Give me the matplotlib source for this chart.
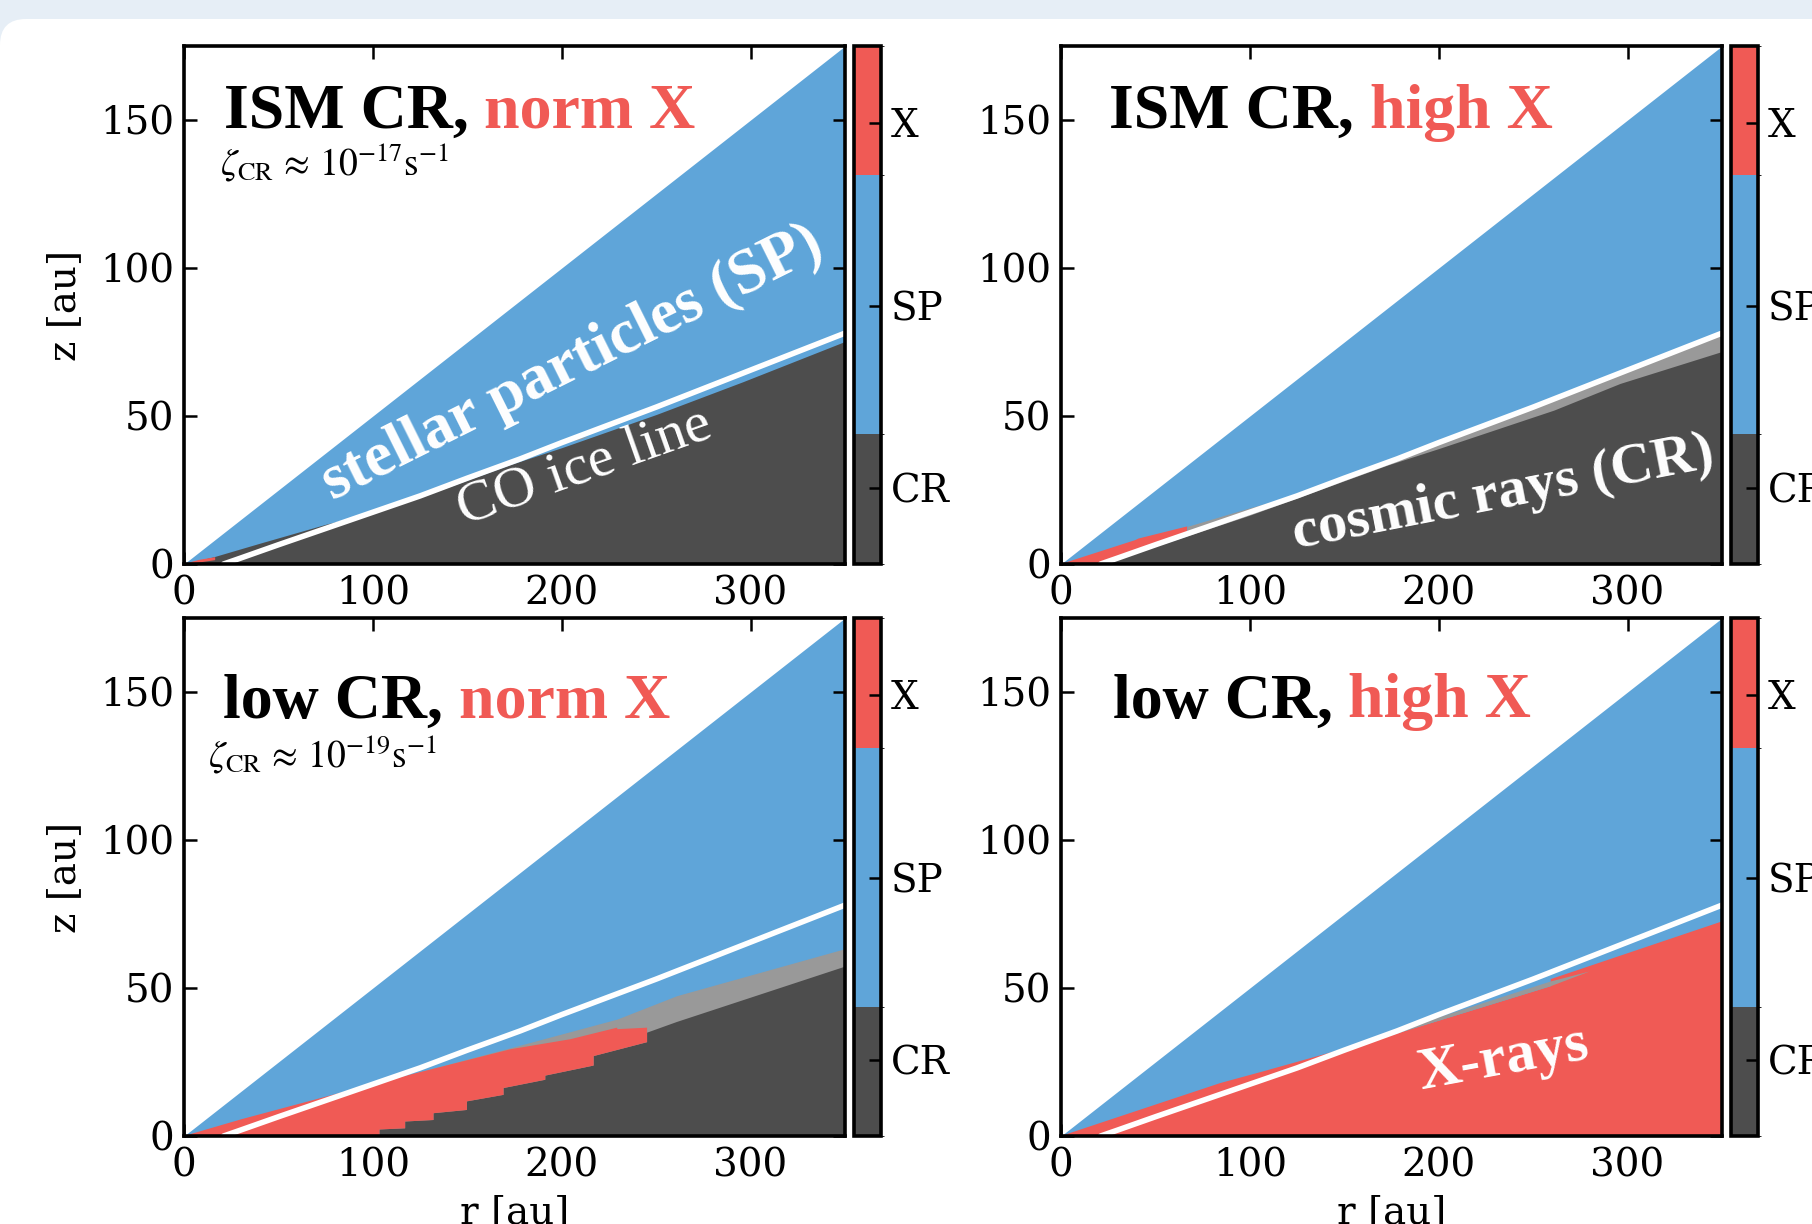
import matplotlib
matplotlib.use("Agg")
import matplotlib.pyplot as plt
import numpy as np
from matplotlib.colors import ListedColormap, BoundaryNorm
from matplotlib.patches import FancyBboxPatch, Rectangle
from matplotlib.transforms import IdentityTransform
import matplotlib.cm as cm

plt.rcParams['font.family'] = ['DejaVu Serif']
plt.rcParams['mathtext.fontset'] = 'stix'

BLUE = '#5fa5d9'
RED = '#f05a55'
DARK = '#4d4d4d'
LIGHT = '#999999'
TITLE_FONT = 'Liberation Serif'

# ---------------- data ----------------
surf_r = [0, 350]
surf_z = [0, 175]

ice_r = [21, 30, 50, 75, 100, 125, 150, 178, 200, 250, 300, 350]
ice_z = [0, 2, 6.5, 12, 17.5, 23, 29, 35.5, 41, 53, 65.5, 78]

# ISM CR, norm X
tl_dark_r = [0, 16, 40, 76, 100, 140, 172.8, 200, 250, 296, 350]
tl_dark_z = [0, 2.5, 7, 13.6, 17.3, 26.0, 33.6, 39.3, 50.5, 61.6, 75.2]
tl_red_r = [0, 8, 16.5, 16.5, 8, 0]
tl_red_z = [0, 1.4, 2.3, 1.3, 0.5, 0]
tl_light_r = [199, 207, 215, 207]
tl_light_z = [41.4, 42.4, 42.9, 41.6]

# ISM CR, high X
tr_light_r = [66.8, 100, 120, 172.8, 200, 261, 296, 350]
tr_light_z = [12.7, 19.0, 22.5, 35.0, 41.2, 55.5, 64.5, 77.5]
tr_dark_r = [21, 66.8, 100, 172.8, 200, 261, 296, 350]
tr_dark_z = [0, 9.5, 16.5, 33.4, 39, 52, 61, 71.8]
tr_red_top_r = [0, 39.4, 41, 66.8]
tr_red_top_z = [0, 8.1, 8.6, 12.7]

# low CR, norm X
bl_light_r = [0, 98.6, 172.8, 229.3, 260.9, 350]
bl_light_z = [0, 17.3, 29.8, 39.5, 47.4, 63.3]
bl_red_top_r = [0, 30.6, 98.6, 172.8, 204.6, 229.3, 229.5, 245.2]
bl_red_top_z = [0, 5.7, 17.3, 29.3, 32.7, 36.6, 36.1, 36.6]
bl_red_bot_r = [103.5, 103.5, 117.1, 117.1, 132.1, 132.1, 149.8, 149.8,
                169.2, 169.2, 191.3, 191.3, 216.9, 216.9, 245.2]
bl_red_bot_z = [0, 2.2, 2.6, 4.9, 5.4, 7.7, 8.8, 11.7,
                13.9, 16.2, 19.0, 20.4, 23.8, 27.0, 31.7]
bl_dark_r = [245.2, 260.9, 350]
bl_dark_z = [34.9, 38.5, 57.2]

# low CR, high X
br_red_r = [0, 84.4, 107.4, 172.8, 259.3, 259.3, 350]
br_red_z = [0, 17.9, 21.9, 33.6, 50.6, 53.0, 72.5]
br_light_r = [150, 172.8, 259.3, 280, 259.3, 172.8, 150]
br_light_z = [29.5, 34.5, 52.2, 55.6, 50.6, 33.6, 29.4]

cb_bounds = [0, 0.25, 0.75, 1.0]
cb_ticks = [0.147, 0.498, 0.852]
cb_labels = ['CR', 'SP', 'X']

titles = [('ISM CR,', ' norm X'), ('ISM CR,', ' high X'),
          ('low CR,', ' norm X'), ('low CR,', ' high X')]
zeta_texts = [r'$\zeta_{\rm CR}\,\approx\,10^{-17}{\rm s}^{-1}$', None,
              r'$\zeta_{\rm CR}\,\approx\,10^{-19}{\rm s}^{-1}$', None]

# ---------------- figure ----------------
W, H = 1812, 1224
fig = plt.figure(figsize=(W / 100, H / 100), dpi=100)
fig.patches.append(Rectangle((0, 0), 1, 1, transform=fig.transFigure,
                             facecolor='#e6eef6', edgecolor='none', zorder=-20))
fig.patches.append(FancyBboxPatch((0, -80), W + 100, H - 19 + 80,
                                  boxstyle='round,pad=0,rounding_size=26',
                                  transform=IdentityTransform(),
                                  facecolor='white', edgecolor='none', zorder=-19))

def fx(px):
    return px / W

def fy(py):
    return 1 - py / H

ax_w = 661 / W
ax_h = 518 / H
pos = {
    0: (fx(184), fy(564)),
    1: (fx(1061), fy(564)),
    2: (fx(184), fy(1136)),
    3: (fx(1061), fy(1136)),
}
cb_x = {0: fx(854), 1: fx(1731), 2: fx(854), 3: fx(1731)}
cb_w = 27 / W

title_xy = {0: (0.060, 0.842), 1: (0.073, 0.842), 2: (0.059, 0.808), 3: (0.078, 0.808)}
zeta_xy = {0: (0.054, 0.750), 2: (0.037, 0.711)}

cmap = ListedColormap([DARK, BLUE, RED])
norm = BoundaryNorm(cb_bounds, cmap.N)

TICK_FS = 28

axes = []
for i in range(4):
    x0, y0 = pos[i]
    ax = fig.add_axes([x0, y0, ax_w, ax_h])
    axes.append(ax)
    ax.set_xlim(0, 350)
    ax.set_ylim(0, 175)
    ax.fill_between(surf_r, 0, surf_z, color=BLUE, lw=0, zorder=1)

    if i == 0:
        ax.fill(tl_light_r, tl_light_z, color=LIGHT, lw=0, zorder=2)
        ax.fill_between(tl_dark_r, 0, tl_dark_z, color=DARK, lw=0, zorder=3)
        ax.fill(tl_red_r, tl_red_z, color=RED, lw=0, zorder=4)
    elif i == 1:
        ax.fill_between(tr_light_r, 0, tr_light_z, color=LIGHT, lw=0, zorder=2)
        ax.fill_between(tr_dark_r, 0, tr_dark_z, color=DARK, lw=0, zorder=3)
        ice_sel = [k for k in range(len(ice_r)) if ice_r[k] < tr_red_top_r[-1]]
        bot_r = [tr_red_top_r[-1]] + [ice_r[k] for k in ice_sel][::-1] + [0]
        bot_z = [float(np.interp(tr_red_top_r[-1], ice_r, ice_z))] + \
                [ice_z[k] for k in ice_sel][::-1] + [0]
        ax.fill(tr_red_top_r + bot_r, tr_red_top_z + bot_z, color=RED, lw=0, zorder=4)
    elif i == 2:
        ax.fill_between(bl_light_r, 0, bl_light_z, color=LIGHT, lw=0, zorder=2)
        dark_r = bl_red_bot_r + bl_dark_r + [350]
        dark_z = bl_red_bot_z + bl_dark_z + [0]
        ax.fill(dark_r, dark_z, color=DARK, lw=0, zorder=3)
        red_r = bl_red_top_r + bl_red_bot_r[::-1]
        red_z = bl_red_top_z + bl_red_bot_z[::-1]
        ax.fill(red_r, red_z, color=RED, lw=0, zorder=4)
    else:
        ax.fill(br_red_r + [350], br_red_z + [0], color=RED, lw=0, zorder=3)
        ax.fill(br_light_r, br_light_z, color=LIGHT, lw=0, zorder=4)

    ax.plot(ice_r, ice_z, color='white', lw=4.0, solid_capstyle='round', zorder=6)

    ax.set_xticks([0, 100, 200, 300])
    ax.set_yticks([0, 50, 100, 150])
    ax.tick_params(direction='in', top=True, right=True, length=9, width=1.8,
                   labelsize=TICK_FS, pad=7)
    ax.tick_params(axis='x', pad=8)
    for sp in ax.spines.values():
        sp.set_linewidth(2.6)
        sp.set_zorder(10)

    if i in (0, 2):
        ax.set_ylabel('z [au]', fontsize=TICK_FS)
        ax.yaxis.set_label_coords(-0.152, 0.5)
    if i in (2, 3):
        ax.set_xlabel('r [au]', fontsize=TICK_FS)
        ax.xaxis.set_label_coords(0.5, -0.113)
        ax.xaxis.label.set_va('top')

    tx, ty = title_xy[i]
    t1 = ax.text(tx, ty, titles[i][0], transform=ax.transAxes, fontsize=46,
                 fontweight='bold', family=TITLE_FONT, color='black',
                 va='baseline', ha='left', zorder=8)
    ax.annotate(titles[i][1], xy=(1, 0), xycoords=t1, xytext=(0, 0),
                textcoords='offset points', fontsize=46, fontweight='bold',
                family=TITLE_FONT, color=RED, va='bottom', ha='left', zorder=8)
    if zeta_texts[i]:
        zx, zy = zeta_xy[i]
        ax.text(zx, zy, zeta_texts[i], transform=ax.transAxes, fontsize=27,
                va='baseline', ha='left', color='black', zorder=8)

    cax = fig.add_axes([cb_x[i], y0, cb_w, ax_h])
    cb = fig.colorbar(cm.ScalarMappable(norm=norm, cmap=cmap), cax=cax,
                      ticks=cb_ticks, spacing='proportional')
    cb.set_ticklabels(cb_labels)
    cb.outline.set_linewidth(2.6)
    cax.tick_params(direction='in', length=9, width=1.8, labelsize=TICK_FS, pad=7)

# region annotations
axes[0].text(209.3, 63.1, 'stellar particles (SP)', fontsize=46, fontweight='bold',
             family=TITLE_FONT, color='white', rotation=26.5, rotation_mode='anchor',
             ha='center', va='baseline', zorder=7)
axes[0].text(214.5, 28.4, 'CO ice line', fontsize=42, family=TITLE_FONT,
             color='white', rotation=19.5, rotation_mode='anchor',
             ha='center', va='baseline', zorder=7)
axes[1].text(235.5, 19.3, 'cosmic rays (CR)', fontsize=42, fontweight='bold',
             family=TITLE_FONT, color='white', rotation=11, rotation_mode='anchor',
             ha='center', va='baseline', zorder=7)
axes[3].text(235.8, 21.1, 'X-rays', fontsize=43, fontweight='bold',
             family=TITLE_FONT, color='white', rotation=10.5, rotation_mode='anchor',
             ha='center', va='baseline', zorder=7)

fig.savefig('out.png', dpi=100)
